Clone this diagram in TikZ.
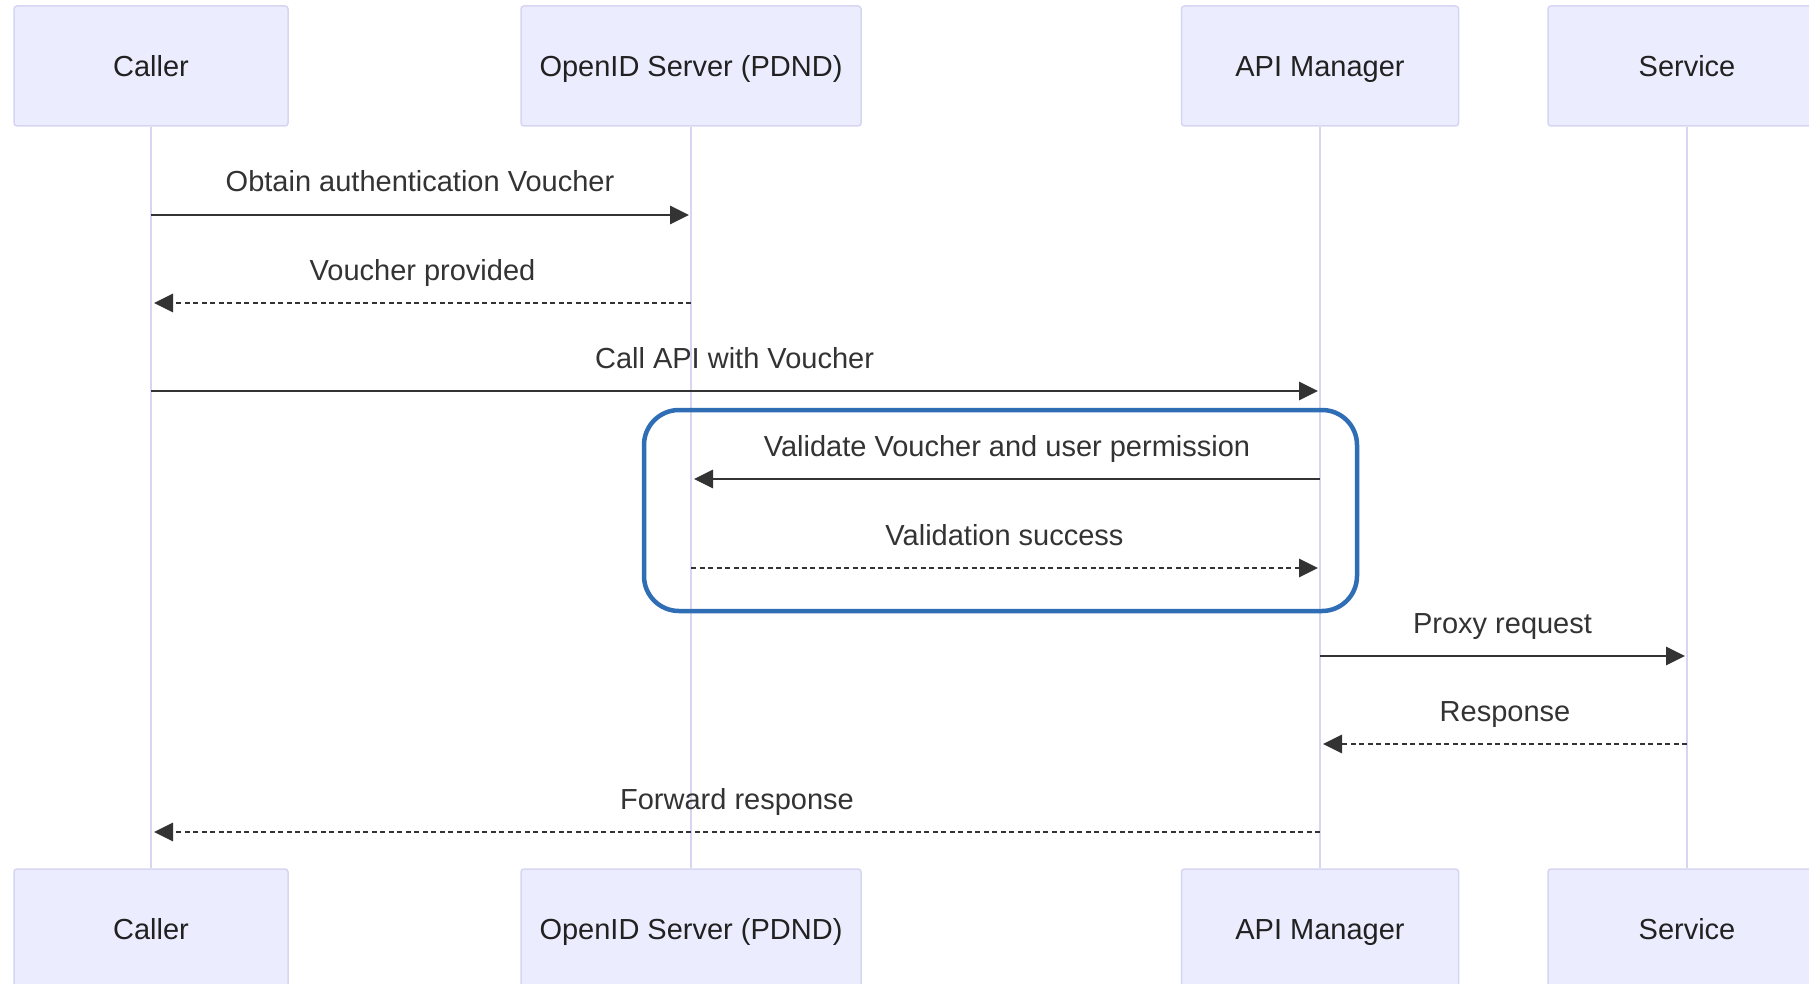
\documentclass[tikz,border=0pt]{standalone}
\usepackage{fontspec}
\setmainfont{Liberation Sans}
\usetikzlibrary{arrows.meta}
\definecolor{actfill}{HTML}{ECECFF}
\definecolor{actline}{HTML}{D6D6F2}
\definecolor{msgcol}{HTML}{333333}
\definecolor{hlblue}{HTML}{2F6DB5}
\begin{document}
\begin{tikzpicture}[x=1pt,y=-1pt,
  actor/.style={draw=actline, line width=1.5pt, fill=actfill, rounded corners=3pt,
    minimum height=120pt, text height=21pt, text depth=0pt, inner sep=0pt,
    font=\fontsize{29}{34}\selectfont, text=black!87},
  lifeline/.style={draw=actline, line width=2.5pt},
  msgsolid/.style={draw=msgcol, line width=2.8pt, -{Triangle[length=19pt,width=18pt]}},
  msgdot/.style={msgsolid, dash pattern=on 5pt off 3.5pt},
  lbl/.style={midway, anchor=base, yshift=23pt, font=\fontsize{29}{34}\selectfont, text=msgcol, inner sep=0pt},
  hl/.style={draw=hlblue, line width=4.5pt, rounded corners=35pt}]
\clip (0,0) rectangle (1809,984);
\fill[white] (0,0) rectangle (1809,984);
% actors top
\node[actor, minimum width=274pt] (cT) at (151,66) {Caller};
\node[actor, minimum width=340pt] (oT) at (691,66) {OpenID Server (PDND)};
\node[actor, minimum width=277pt] (aT) at (1320,66) {API Manager};
\node[actor, minimum width=278pt] (sT) at (1687,66) {Service};
% actors bottom
\node[actor, minimum width=274pt] (cB) at (151,929) {Caller};
\node[actor, minimum width=340pt] (oB) at (691,929) {OpenID Server (PDND)};
\node[actor, minimum width=277pt] (aB) at (1320,929) {API Manager};
\node[actor, minimum width=278pt] (sB) at (1687,929) {Service};
% lifelines
\draw[lifeline] (cT.south) -- (cB.north);
\draw[lifeline] (oT.south) -- (oB.north);
\draw[lifeline] (aT.south) -- (aB.north);
\draw[lifeline] (sT.south) -- (sB.north);
% highlight
\node[hl, minimum width=713pt, minimum height=201pt] (hlbox) at (1000.5,510.5) {};
% messages
\draw[msgsolid] (cT |- 0,215) -- ([xshift=-2pt]oT |- 0,215) node[lbl] {Obtain authentication Voucher};
\draw[msgdot] (oT |- 0,303) -- ([xshift=3pt]cT |- 0,303) node[lbl] {Voucher provided};
\draw[msgsolid] (cT |- 0,391) -- ([xshift=-2pt]aT |- 0,391) node[lbl] {Call API with Voucher};
\draw[msgsolid] (aT |- 0,479) -- ([xshift=3pt]oT |- 0,479) node[lbl] {Validate Voucher and user permission};
\draw[msgdot] (oT |- 0,568) -- ([xshift=-2pt]aT |- 0,568) node[lbl] {Validation success};
\draw[msgsolid] (aT |- 0,656) -- ([xshift=-2pt]sT |- 0,656) node[lbl] {Proxy request};
\draw[msgdot] (sT |- 0,744) -- ([xshift=3pt]aT |- 0,744) node[lbl] {Response};
\draw[msgdot] (aT |- 0,832) -- ([xshift=3pt]cT |- 0,832) node[lbl] {Forward response};
\end{tikzpicture}
\end{document}
